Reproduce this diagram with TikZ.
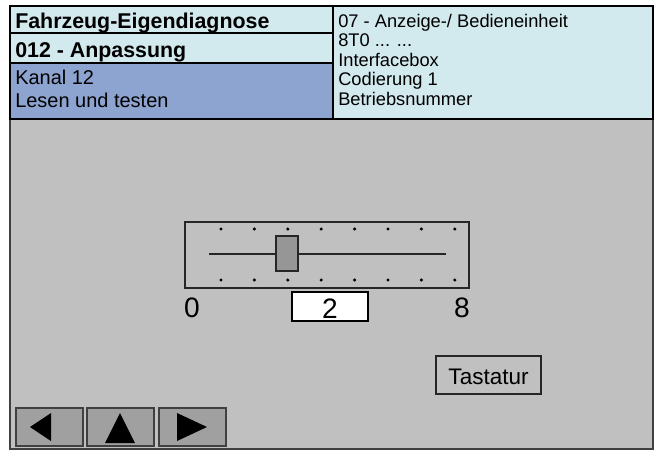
\documentclass[tikz,border=0pt]{standalone}
\usepackage{fontspec}
\setmainfont{Liberation Sans}
\usepackage{tikz}
\definecolor{kopf}{RGB}{210,233,238}
\definecolor{kanal}{RGB}{142,164,208}
\definecolor{grund}{RGB}{192,192,192}
\definecolor{taste}{RGB}{160,160,160}
\definecolor{schieber}{RGB}{150,150,150}

\begin{document}
\begin{tikzpicture}[x=0.025cm, y=0.025cm]
\tikzstyle{every node}+=[inner sep=0pt]
\tikzstyle{titel}=[anchor=base west, font=\fontsize{15.2}{18}\bfseries\selectfont]
\tikzstyle{links}=[anchor=base west, font=\fontsize{14.2}{17}\selectfont]
\tikzstyle{rechts}=[anchor=base west, font=\fontsize{13}{15}\selectfont]
\tikzstyle{ziffer}=[anchor=base, font=\fontsize{20}{22}\selectfont]
\useasboundingbox (0,0) rectangle (656,-450);
% Rahmen
\draw [black!75, line width=1.4pt, fill=grund] (10,-6) rectangle (653,-449);
% Kopfzeile
\draw [black, line width=1.2pt, fill=kopf] (10,-6) rectangle (333,-33);
\draw [black, line width=1.2pt, fill=kopf] (10,-33) rectangle (333,-63);
\draw [black, line width=1.2pt, fill=kanal] (10,-63) rectangle (333,-119);
\draw [black, line width=1.2pt, fill=kopf] (333,-6) rectangle (653,-119);
\node [titel] (diag) at (15,-28) {Fahrzeug-Eigendiagnose};
\node [titel] (anp) at (15,-57) {012 - Anpassung};
\node [links] (kanal) at (15,-84) {Kanal 12};
\node [links] (lesen) at (15,-107) {Lesen und testen};
\node [rechts] (steuer) at (338,-27) {07 - Anzeige-/ Bedieneinheit};
\node [rechts] (teil) at (338,-46.5) {8T0 ... ...};
\node [rechts] (box) at (338,-66) {Interfacebox};
\node [rechts] (cod) at (338,-85.5) {Codierung 1};
\node [rechts] (betr) at (338,-105) {Betriebsnummer};
% Schieberegler
\draw [black!85, line width=0.8pt] (185,-222) rectangle (469,-288);
\foreach \i in {0,...,7}
{
\fill [black] (221+33.4*\i,-229) circle (1.7);
\fill [black] (221+33.4*\i,-280) circle (1.7);
}
\draw [black!85, line width=1pt] (209,-254) -- (446,-254);
\draw [black!85, line width=0.8pt, fill=schieber] (276,-236) rectangle (298,-271);
\draw [black, line width=0.8pt, fill=white] (292,-292) rectangle (368,-321);
\node [ziffer] (min) at (192,-317) {0};
\node [ziffer] (wert) at (330,-318) {2};
\node [ziffer] (max) at (462,-317) {8};
% Tastatur
\draw [black!85, line width=1pt] (436,-356) rectangle (541,-394);
\node [anchor=base, font=\fontsize{16}{19}\selectfont] (tast) at (488.5,-384) {Tastatur};
% Pfeiltasten
\draw [black!75, line width=0.8pt, fill=taste] (16,-408) rectangle (83,-446);
\draw [black!75, line width=0.8pt, fill=taste] (87,-408) rectangle (154,-446);
\draw [black!75, line width=0.8pt, fill=taste] (159,-408) rectangle (226,-446);
\fill [black] (30,-427) -- (51,-413) -- (51,-441) -- cycle;
\fill [black] (120,-413) -- (135,-443) -- (105,-443) -- cycle;
\fill [black] (207,-427) -- (177,-413) -- (177,-441) -- cycle;
\end{tikzpicture}
\end{document}
